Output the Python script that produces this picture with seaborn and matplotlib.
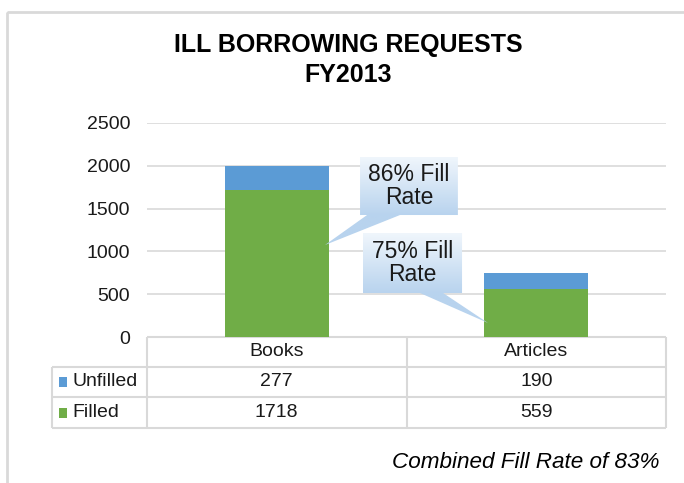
import numpy as np
import pandas as pd
import matplotlib
matplotlib.use("Agg")
import matplotlib.pyplot as plt
import matplotlib.transforms as mtransforms
from matplotlib.patches import Rectangle, PathPatch
from matplotlib.path import Path
import seaborn as sns

# ---- data ----
categories = ["Books", "Articles"]
series_names = ["Unfilled", "Filled"]
unfilled = [277, 190]
filled = [1718, 559]
fill_rate_labels = ["86% Fill\nRate", "75% Fill\nRate"]
y_ticks = [0, 500, 1000, 1500, 2000, 2500]
title_text = "ILL BORROWING REQUESTS\nFY2013"
footnote_text = "Combined Fill Rate of 83%"

# ---- style ----
BLUE = "#5B9BD5"
GREEN = "#70AD47"
GRID = "#d9d9d9"
TEXT = "#1a1a1a"
BAR_WIDTH = 0.4

sns.set_theme(style="white")
plt.rcParams["font.family"] = ["Liberation Sans", "DejaVu Sans"]

W, H = 684, 483
fig = plt.figure(figsize=(W / 100, H / 100), dpi=100)
fig.patch.set_facecolor("white")


def fx(px):
    return px / W


def fy(py):
    return 1 - py / H


# pixel-space overlay for the frame, table, title and footnote
ov = fig.add_axes([0, 0, 1, 1], zorder=0)
ov.set_xlim(0, W)
ov.set_ylim(H, 0)
ov.axis("off")

ax = fig.add_axes([fx(147), fy(337), fx(666) - fx(147), fy(123) - fy(337)], zorder=1)
ax.patch.set_alpha(0)

df = pd.DataFrame({"category": categories, "Unfilled": unfilled, "Filled": filled})
df["total"] = df["Unfilled"] + df["Filled"]

# stacked columns: total in blue, filled drawn over it in green
sns.barplot(data=df, x="category", y="total", color=BLUE, width=BAR_WIDTH,
            saturation=1, errorbar=None, ax=ax, zorder=2, linewidth=0)
sns.barplot(data=df, x="category", y="Filled", color=GREEN, width=BAR_WIDTH,
            saturation=1, errorbar=None, ax=ax, zorder=3, linewidth=0)

ax.set_xlim(-0.5, len(categories) - 0.5)
ax.set_ylim(0, y_ticks[-1])
ax.set_yticks(y_ticks)
ax.set_yticklabels([str(v) for v in y_ticks], fontsize=14, color=TEXT)
ax.tick_params(axis="y", length=0, pad=12)
ax.tick_params(axis="x", length=0, labelbottom=False)
ax.set_xlabel("")
ax.set_ylabel("")
ax.yaxis.grid(True, color=GRID, lw=1.2)
ax.set_axisbelow(True)
for s in ax.spines.values():
    s.set_visible(False)

# ---- callouts with gradient fill ----
callouts = [
    # box (x0, x1, y0, y1), tail base (xa, xb), tail tip (x, y)
    dict(box=(0.321, 0.698, 1425, 2103), base=(0.348, 0.475),
         tip=(0 + BAR_WIDTH / 2 - 0.014, 1075)),
    dict(box=(0.332, 0.714, 514, 1215), base=(0.552, 0.641),
         tip=(1 - BAR_WIDTH / 2 + 0.014, 164)),
]
top_rgb = np.array(matplotlib.colors.to_rgb("#f0f6fc"))
bot_rgb = np.array(matplotlib.colors.to_rgb("#b8d3ee"))
for co, label in zip(callouts, fill_rate_labels):
    x0, x1, y0, y1 = co["box"]
    xa, xb = co["base"]
    tx, ty = co["tip"]
    verts = [(x0, y1), (x1, y1), (x1, y0), (xb, y0), (tx, ty), (xa, y0), (x0, y0), (x0, y1)]
    codes = [Path.MOVETO] + [Path.LINETO] * 6 + [Path.CLOSEPOLY]
    patch = PathPatch(Path(verts, codes), facecolor="none", edgecolor="none",
                      transform=ax.transData, clip_on=False)
    ax.add_patch(patch)
    ex0, ex1 = min(x0, tx), max(x1, tx)
    ey0 = min(y0, ty)
    ys = np.linspace(y1, ey0, 200)
    t = np.clip((y1 - ys) / (y1 - y0), 0, 1)
    grad = (top_rgb[None, :] * (1 - t[:, None]) + bot_rgb[None, :] * t[:, None])
    img = np.repeat(grad[:, None, :], 4, axis=1)
    im = ax.imshow(img, extent=[ex0, ex1, ey0, y1], aspect="auto", zorder=5,
                   interpolation="bilinear")
    im.set_clip_path(patch)
    ax.text((x0 + x1) / 2, (y0 + y1) / 2, label, ha="center", va="center",
            fontsize=16.5, color=TEXT, linespacing=1.05, zorder=6)

ax.set_xlim(-0.5, len(categories) - 0.5)
ax.set_ylim(0, y_ticks[-1])

# ---- data table under the plot ----
LINE = dict(color="#d9d9d9", lw=1.5, solid_capstyle="butt")
row_y = [337, 367, 397, 428]
ov.plot([147, 666], [row_y[0]] * 2, **LINE)
for yy in row_y[1:]:
    ov.plot([52, 666], [yy] * 2, **LINE)
ov.plot([52, 52], [row_y[1], row_y[3]], **LINE)
bt = mtransforms.blended_transform_factory(ax.transData, ov.transData)
for xb in np.arange(-0.5, len(categories), 1.0):
    ov.plot([xb, xb], [row_y[0], row_y[3]], transform=bt, **LINE)

for i, cat in enumerate(categories):
    ov.text(i, (row_y[0] + row_y[1]) / 2, cat, transform=bt, ha="center", va="center",
            fontsize=14, color=TEXT)
    ov.text(i, (row_y[1] + row_y[2]) / 2, str(unfilled[i]), transform=bt, ha="center",
            va="center", fontsize=14, color=TEXT)
    ov.text(i, (row_y[2] + row_y[3]) / 2, str(filled[i]), transform=bt, ha="center",
            va="center", fontsize=14, color=TEXT)

for r, (name, col) in enumerate(zip(series_names, [BLUE, GREEN])):
    yc = (row_y[r + 1] + row_y[r + 2]) / 2
    ov.add_patch(Rectangle((59, yc - 5), 8, 10, facecolor=col, edgecolor="none"))
    ov.text(72, yc, name, ha="left", va="center", fontsize=14, color=TEXT)

# ---- frame, title, footnote ----
ov.add_patch(Rectangle((7, 12), 720, 520, fill=False, edgecolor="#d9d9d9", lw=2,
                       clip_on=False))
ov.text(348, 60, title_text, ha="center", va="center", fontsize=18, fontweight="bold",
        color="black", linespacing=1.3)
ov.text(660, 463, footnote_text, ha="right", va="center", fontsize=16.2, style="italic",
        color="black")

fig.savefig("out.png", dpi=100)
